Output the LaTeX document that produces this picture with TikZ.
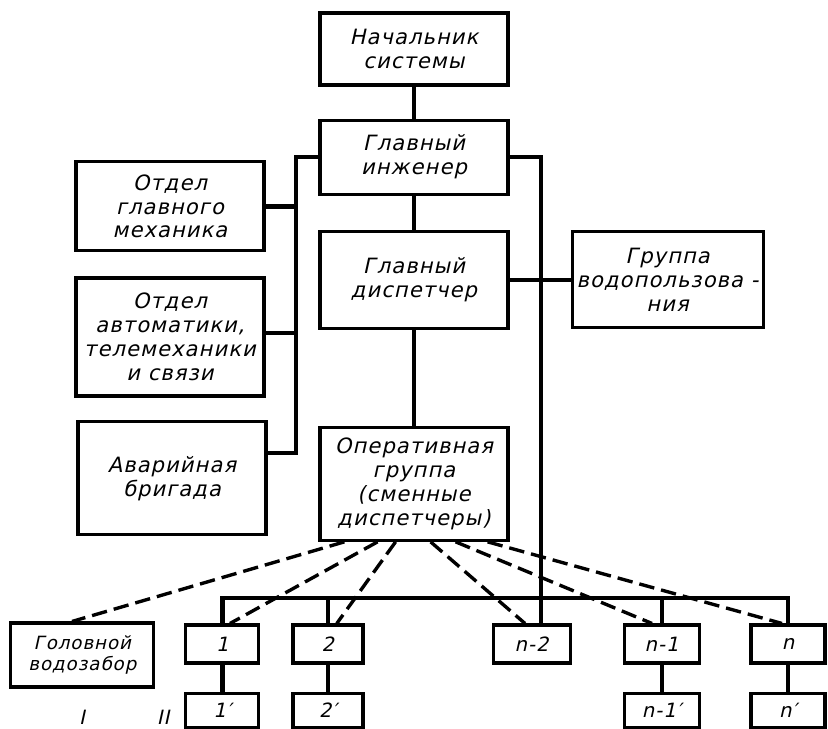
\documentclass[tikz,border=0pt]{standalone}
\usepackage{fontspec}
\newfontfamily\gost{DejaVu Sans}[FakeSlant=0.22, LetterSpace=5]
\usetikzlibrary{positioning, calc}

\begin{document}
\begin{tikzpicture}[
    node distance=0.8cm and 1.5cm,
    unit/.style={rectangle, draw, line width=2.2pt, minimum width=4.7cm, align=center, inner sep=2pt, font=\gost\fontsize{15}{17}\selectfont},
    cell/.style={rectangle, draw, line width=2.2pt, minimum height=0.95cm, align=center, inner sep=2pt, font=\gost\fontsize{14}{16}\selectfont},
    wire/.style={line width=3pt},
    link/.style={line width=2.4pt, dash pattern=on 11pt off 5pt},
    roman/.style={font=\gost\fontsize{14}{16}\selectfont}
]
\useasboundingbox (0,0) rectangle (20.7,-18.2);

% центральная колонка
\node[unit, minimum height=1.8cm] (chief) at (10.35,-1.225) {Начальник\\системы};
\node[unit, minimum height=1.85cm, below=0.8cm of chief] (engineer) {Главный\\инженер};
\node[unit, minimum height=2.425cm, below=0.85cm of engineer] (disp) {Главный\\диспетчер};
\node[unit, minimum height=2.825cm, below=2.4cm of disp] (oper) {Оперативная\\группа\\(сменные\\диспетчеры)};
\node[unit, minimum width=4.775cm, minimum height=2.4cm, right=1.525cm of disp] (water) {Группа\\водопользова -\\ния};

% отделы слева
\node[unit, minimum height=2.225cm] (mech) at (4.25,-5.16) {Отдел\\главного\\механика};
\node[unit, minimum height=2.95cm] (auto) at (4.25,-8.425) {Отдел\\автоматики,\\телемеханики\\и связи};
\node[unit, minimum height=2.825cm] (avar) at (4.3,-11.96) {Аварийная\\бригада};

% объекты внизу
\node[unit, minimum width=3.575cm, minimum height=1.6cm, font=\gost\fontsize{13}{15}\selectfont] (head) at (2.06,-16.375) {Головной\\водозабор};
\node[cell, minimum width=1.825cm] (b1) at (5.56,-16.1) {1};
\node[cell, minimum width=1.75cm] (b2) at (8.2,-16.1) {2};
\node[cell, minimum width=1.925cm] (bn2) at (13.29,-16.1) {n-2};
\node[cell, minimum width=1.875cm] (bn1) at (16.54,-16.1) {n-1};
\node[cell, minimum width=1.85cm] (bn) at (19.7,-16.1) {n};

\node[cell, minimum width=1.825cm, minimum height=0.87cm, below=0.675cm of b1] (b1p) {1′};
\node[cell, minimum width=1.75cm, minimum height=0.87cm, below=0.675cm of b2] (b2p) {2′};
\node[cell, minimum width=1.875cm, minimum height=0.87cm, below=0.675cm of bn1] (bn1p) {n-1′};
\node[cell, minimum width=1.85cm, minimum height=0.87cm, below=0.675cm of bn] (bnp) {n′};

\node[roman] (one) at (2.05,-17.93) {I};
\node[roman] (two) at (4.08,-17.93) {II};

% связи
\coordinate (lbus) at (7.4,-11.325);
\coordinate (rbus) at (13.52,-14.95);

\draw[wire] (chief) -- (engineer);
\draw[wire] (engineer) -- (disp);
\draw[wire] (disp) -- (oper);
\draw[wire] (disp) -- (water);

\draw[wire] (engineer.west) -| (lbus) -- (lbus -| avar.east);
\draw[wire] (mech.east) -- (mech.east -| lbus);
\draw[wire] ([yshift=0.1cm]auto.east) -- ([yshift=0.1cm]auto.east -| lbus);

\draw[wire] (engineer.east) -| (rbus |- bn2.north);
\draw[wire] (b1.north) |- (rbus) -| (bn.north);
\draw[wire] (b2.north) -- (b2.north |- rbus);
\draw[wire] (bn1.north) -- (bn1.north |- rbus);

\draw[wire] (b1) -- (b1p);
\draw[wire] (b2) -- (b2p);
\draw[wire] (bn1) -- (bn1p);
\draw[wire] (bn) -- (bnp);

% оперативная связь
\draw[link] ([xshift=-1.74cm]oper.south) -- ([xshift=-0.26cm]head.north);
\draw[link] ([xshift=-0.91cm]oper.south) -- ([xshift=0.19cm]b1.north);
\draw[link] ([xshift=-0.46cm]oper.south) -- ([xshift=0.22cm]b2.north);
\draw[link] ([xshift=0.415cm]oper.south) -- ([xshift=-0.165cm]bn2.north);
\draw[link] ([xshift=1.04cm]oper.south) -- ([xshift=-0.24cm]bn1.north);
\draw[link] ([xshift=1.84cm]oper.south) -- ([xshift=-0.15cm]bn.north);

\end{tikzpicture}
\end{document}
